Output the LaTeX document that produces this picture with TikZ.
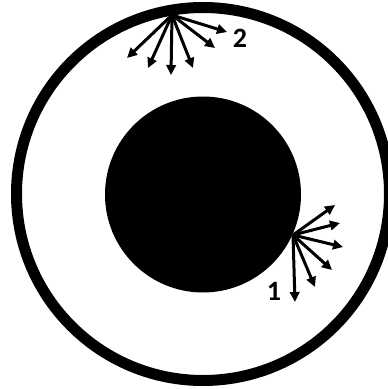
\documentclass[tikz,border=0pt]{standalone}
\usepackage{fontspec}
\setmainfont{Carlito}
\usetikzlibrary{arrows.meta}
\begin{document}
\begin{tikzpicture}[x=1pt,y=-1pt,
  ray/.style={line width=3pt, -{Triangle[length=10pt,width=9.5pt]}},
  lbl/.style={font=\fontsize{28}{28}\selectfont\bfseries, inner sep=0pt}]
\useasboundingbox (0,0) rectangle (388,389);
\clip (0,0) rectangle (388,389);
\node[circle, draw, line width=11pt, minimum size=373pt, inner sep=0pt] (outer) at (203,194) {};
\node[circle, fill, minimum size=196pt, inner sep=0pt] (core) at (203,194.5) {};
% point 2 on the outer wall
\coordinate (p2) at (172,15);
\coordinate (a1) at (127,58);
\coordinate (a2) at (148,68);
\coordinate (a3) at (171,75);
\coordinate (a4) at (193,68);
\coordinate (a5) at (215,48);
\coordinate (a6) at (227,32);
\foreach \t in {a1,a2,a3,a4,a5,a6} \draw[ray] (p2) -- (\t);
\node[lbl] (n2) at (240,38.5) {2};
% point 1 on the core
\coordinate (p1) at (293,235);
\coordinate (b1) at (335,205);
\coordinate (b2) at (340,223);
\coordinate (b3) at (343,247);
\coordinate (b4) at (332,270);
\coordinate (b5) at (315,287);
\coordinate (b6) at (295,302);
\foreach \t in {b1,b2,b3,b4,b5,b6} \draw[ray] (p1) -- (\t);
\node[lbl] (n1) at (274,291) {1};
\end{tikzpicture}
\end{document}
